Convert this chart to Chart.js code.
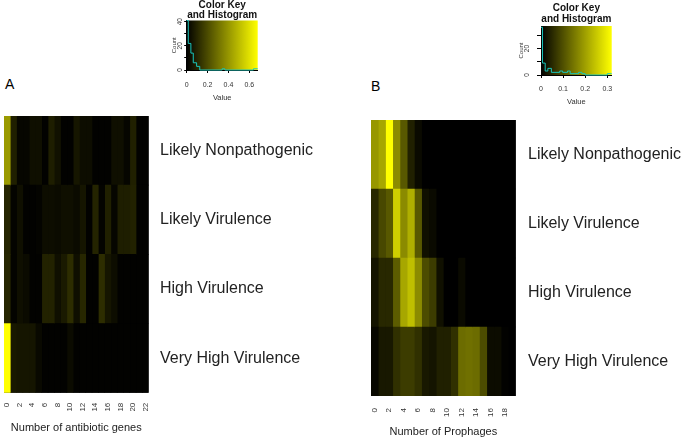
<!DOCTYPE html>
<html>
<head>
<meta charset="utf-8">
<script src="https://cdn.jsdelivr.net/npm/chart.js@4/dist/chart.umd.min.js"></script>
<style>
  body { margin: 0; background: #fff; width: 685px; height: 439px; position: relative; overflow: hidden;
         font-family: "Liberation Sans", Arial, sans-serif; }
  canvas { position: absolute; }
  .letter { position: absolute; font-size: 14px; line-height: 14px; color: #000; }
</style>
</head>
<body>
<div class="letter" style="left:5px;top:77px">A</div>
<div class="letter" style="left:371px;top:79px">B</div>
<canvas id="keyA" width="115" height="110" style="left:165px;top:0px"></canvas>
<canvas id="keyB" width="115" height="115" style="left:515px;top:0px"></canvas>
<canvas id="heatA" width="340" height="339" style="left:0px;top:100px"></canvas>
<canvas id="heatB" width="325" height="339" style="left:360px;top:100px"></canvas>
<script>
Chart.defaults.font.family = '"Liberation Sans", Arial, sans-serif';
Chart.defaults.color = '#222';

// rows of both heatmaps, top to bottom
const rowLabels = ['Likely Nonpathogenic', 'Likely Virulence', 'High Virulence', 'Very High Virulence'];

// panel A: number of antibiotic genes (columns) - values in colour key units
const genesA = [0, 1, 2, 3, 4, 5, 6, 7, 8, 9, 10, 11, 12, 13, 14, 15, 16, 17, 18, 19, 20, 21, 22];
const genesTicksA = ['0', '2', '4', '6', '8', '10', '12', '14', '16', '18', '20', '22'];
const heatNonpathA = [0.41, 0.085, 0.015, 0.015, 0.04, 0.04, 0.005, 0.08, 0.045, 0.005, 0.005, 0.06, 0.035, 0.035, 0.005, 0.005, 0.005, 0.04, 0.04, 0.015, 0.085, 0.005, 0.005];
const heatLikelyA  = [0.095, 0.01, 0.04, 0.005, 0.005, 0.01, 0.035, 0.035, 0.03, 0.04, 0.04, 0.03, 0.055, 0.005, 0.095, 0.01, 0.085, 0.015, 0.08, 0.08, 0.09, 0.005, 0.005];
const heatHighA    = [0.1, 0.01, 0.04, 0.03, 0.005, 0.005, 0.09, 0.09, 0.04, 0.07, 0.12, 0.04, 0.105, 0.005, 0.005, 0.12, 0.055, 0.035, 0.005, 0.005, 0.005, 0.005, 0.005];
const heatVeryA    = [0.68, 0.065, 0.055, 0.055, 0.055, 0.025, 0.005, 0.005, 0.005, 0.005, 0.03, 0.005, 0.005, 0.005, 0.005, 0.005, 0.005, 0.005, 0.005, 0.005, 0.005, 0.005, 0.005];
const keyRangeA = [0, 0.68];
const keyTicksA = [0, 0.2, 0.4, 0.6];
const countMaxA = 41;
const countTicksA = [0, 10, 20, 30, 40];
const histBreaksA = [0, 0.015, 0.04, 0.063, 0.095, 0.125, 0.34, 0.365, 0.64, 0.68];
const histCountsA = [41, 22, 14, 6, 3, 0, 1, 0, 1, 1];

// panel B: number of prophages (columns)
const prophagesB = [0, 1, 2, 3, 4, 5, 6, 7, 8, 9, 10, 11, 12, 13, 14, 15, 16, 17, 18, 19];
const prophageTicksB = ['0', '2', '4', '6', '8', '10', '12', '14', '16', '18'];
const heatNonpathB = [0.19, 0.21, 0.32, 0.175, 0.11, 0.04, 0.013, 0, 0, 0, 0, 0, 0, 0, 0, 0, 0, 0, 0, 0];
const heatLikelyB  = [0.05, 0.09, 0.11, 0.26, 0.175, 0.22, 0.11, 0.02, 0.013, 0, 0, 0, 0, 0, 0, 0, 0, 0, 0, 0];
const heatHighB    = [0.025, 0.05, 0.05, 0.115, 0.21, 0.24, 0.175, 0.095, 0.075, 0.02, 0, 0, 0.013, 0, 0, 0, 0, 0, 0, 0];
const heatVeryB    = [0.01, 0.03, 0.03, 0.06, 0.075, 0.075, 0.06, 0.03, 0.025, 0.04, 0.04, 0.06, 0.135, 0.14, 0.135, 0.095, 0.015, 0.015, 0.003, 0];
const keyRangeB = [0, 0.32];
const keyTicksB = [0, 0.1, 0.2, 0.3];
const countMaxB = 37;
const countTicksB = [0, 10, 20, 30];
const histBreaksB = [0, 0.007, 0.019, 0.031, 0.047, 0.085, 0.098, 0.12, 0.132, 0.17, 0.185, 0.2, 0.3, 0.32];
const histCountsB = [36, 9, 3, 5, 2, 3, 2, 3, 1, 2, 1, 0, 1, 1];

// black -> yellow ramp like the R colour key
function yellowBlack(v, max) {
  const t = Math.max(0, Math.min(1, v / max));
  const c = Math.round(255 * t);
  return 'rgb(' + c + ',' + c + ',0)';
}

function zeroPad(s) {
  s.paddingLeft = 0; s.paddingRight = 0; s.paddingTop = 0; s.paddingBottom = 0;
}

// fills the plot area before the data is drawn
const areaFill = {
  id: 'areaFill',
  beforeDatasetsDraw(chart, args, opts) {
    const a = chart.chartArea, ctx = chart.ctx;
    ctx.save();
    if (opts.gradient) {
      const g = ctx.createLinearGradient(a.left, 0, a.right, 0);
      g.addColorStop(0, opts.gradient[0]);
      g.addColorStop(1, opts.gradient[1]);
      ctx.fillStyle = g;
    } else {
      ctx.fillStyle = opts.color;
    }
    ctx.fillRect(a.left, a.top, a.right - a.left, a.bottom - a.top);
    ctx.restore();
  }
};

function drawHeatmap(id, cols, colTicks, values, max, xTitle, g) {
  const datasets = cols.map((c, ci) => ({
    data: rowLabels.map(() => [ci, ci + 1]),
    backgroundColor: rowLabels.map((r, ri) => yellowBlack(values[ri][ci], max)),
    borderWidth: 0,
    grouped: false,
    barPercentage: 1,
    categoryPercentage: 1
  }));
  new Chart(document.getElementById(id), {
    type: 'bar',
    data: { labels: rowLabels, datasets: datasets },
    plugins: [areaFill],
    options: {
      indexAxis: 'y',
      responsive: false,
      animation: false,
      events: [],
      layout: { padding: { left: g.left, top: g.top, right: 0, bottom: 0 } },
      plugins: {
        legend: { display: false },
        tooltip: { enabled: false },
        areaFill: { color: '#000' }
      },
      scales: {
        y: {
          position: 'right',
          grid: { display: false, drawTicks: false },
          border: { display: false },
          ticks: { color: '#222', font: { size: 16 }, padding: g.labelPad },
          afterFit: s => { s.width = g.yWidth; zeroPad(s); }
        },
        x: {
          type: 'linear',
          min: 0,
          max: cols.length,
          grid: { display: false, drawTicks: false },
          border: { display: false },
          afterBuildTicks: s => { s.ticks = colTicks.map(t => ({ value: cols.indexOf(Number(t)) + 0.5 })); },
          ticks: {
            autoSkip: false, minRotation: 90, maxRotation: 90,
            padding: g.tickPad, color: '#333', font: { size: 8 },
            callback: v => String(cols[Math.floor(v)])
          },
          title: { display: true, text: xTitle, color: '#222', font: { size: 11 }, padding: { top: 0, bottom: g.titlePad } },
          afterFit: s => { s.height = g.xHeight; zeroPad(s); }
        }
      }
    }
  });
}

function drawKey(id, range, valueTicks, countMax, countTicks, breaks, counts, g) {
  new Chart(document.getElementById(id), {
    type: 'line',
    data: {
      datasets: [{
        data: breaks.map((b, i) => ({ x: b, y: counts[i] })),
        borderColor: '#19c6bc',
        borderWidth: 1,
        pointRadius: 0,
        stepped: true,
        clip: false
      }]
    },
    plugins: [areaFill],
    options: {
      responsive: false,
      animation: false,
      events: [],
      layout: { padding: { left: 0, top: 0, right: g.right, bottom: 0 } },
      plugins: {
        legend: { display: false },
        tooltip: { enabled: false },
        areaFill: { gradient: ['#000000', '#ffff00'] },
        title: {
          display: true, fullSize: false,
          text: ['Color Key', 'and Histogram'],
          color: '#111',
          font: { size: 10, weight: 'bold', lineHeight: g.titleLh },
          padding: { top: g.titleTop, bottom: g.titleBottom }
        }
      },
      scales: {
        x: {
          type: 'linear',
          min: range[0],
          max: range[1],
          afterBuildTicks: s => { s.ticks = valueTicks.map(v => ({ value: v })); },
          grid: { drawOnChartArea: false, tickLength: 3, color: '#000' },
          border: { color: '#000' },
          ticks: { font: { size: 7 }, color: '#333', padding: g.xPad, maxRotation: 0 },
          title: { display: true, text: 'Value', font: { size: 7.5 }, color: '#333', padding: { top: 0, bottom: g.valuePad } },
          afterFit: s => { s.height = g.xHeight; zeroPad(s); }
        },
        y: {
          type: 'linear',
          min: 0,
          max: countMax,
          afterBuildTicks: s => { s.ticks = countTicks.map(v => ({ value: v })); },
          grid: { drawOnChartArea: false, tickLength: g.yTick, color: '#000' },
          border: { color: '#000' },
          ticks: {
            font: { size: 6.5 }, color: '#333', padding: g.yPad,
            minRotation: 90, maxRotation: 90, crossAlign: 'center',
            callback: v => (v % 20 === 0 ? String(v) : '')
          },
          title: { display: true, text: 'Count', font: { size: 6 }, color: '#333', padding: { top: g.countPad, bottom: 0 } },
          afterFit: s => { s.width = g.yWidth; zeroPad(s); }
        }
      }
    }
  });
}

drawHeatmap('heatA', genesA, genesTicksA, [heatNonpathA, heatLikelyA, heatHighA, heatVeryA], keyRangeA[1],
  'Number of antibiotic genes',
  { left: 4, top: 16, yWidth: 191.4, xHeight: 46.3, labelPad: 11.4, tickPad: 10, titlePad: 4.4 });

drawHeatmap('heatB', prophagesB, prophageTicksB, [heatNonpathB, heatLikelyB, heatHighB, heatVeryB], keyRangeB[1],
  'Number of Prophages',
  { left: 11, top: 20, yWidth: 169.3, xHeight: 43, labelPad: 12.3, tickPad: 12, titlePad: 0.7 });

drawKey('keyA', keyRangeA, keyTicksA, countMaxA, countTicksA, histBreaksA, histCountsA,
  { right: 22.3, titleLh: 1.0, titleTop: 0.5, titleBottom: 0, xHeight: 40, xPad: 7.8, valuePad: 7.5,
    yWidth: 21.7, yTick: 2.5, yPad: 0, countPad: 5.9 });

drawKey('keyB', keyRangeB, keyTicksB, countMaxB, countTicksB, histBreaksB, histCountsB,
  { right: 18.3, titleLh: 1.1, titleTop: 2.8, titleBottom: 1.2, xHeight: 40, xPad: 7.1, valuePad: 8.8,
    yWidth: 26, yTick: 4, yPad: 6, countPad: 2.6 });
</script>
</body>
</html>
